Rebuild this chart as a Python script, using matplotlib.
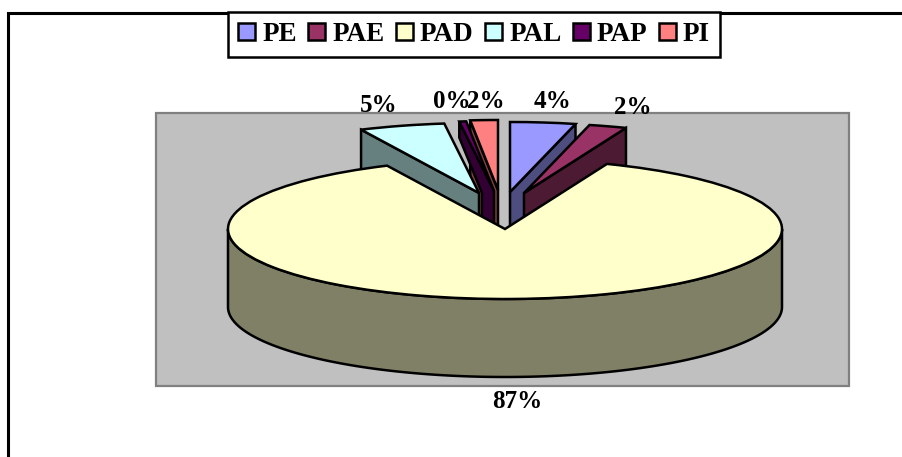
import numpy as np
import matplotlib
matplotlib.use("Agg")
import matplotlib.pyplot as plt
from matplotlib.patches import Patch, Rectangle, Wedge

# Data
categories = ["PE", "PAE", "PAD", "PAL", "PAP", "PI"]
values = [3.8, 2.2, 87.0, 5.0, 0.4, 1.6]
labels = ["4%", "2%", "87%", "5%", "0%", "2%"]

# Style
top_colors = ["#9999FF", "#993366", "#FFFFCC", "#CCFFFF", "#660066", "#FF8080"]
side_colors = ["#4D4D80", "#4D1A33", "#808066", "#668080", "#330033", "#804040"]
W, H = 903, 457
CX, CY, RX, RY, DEPTH = 505, 229, 277, 70, 78
apex_px = [(510, 192), (524, 193), (505, 229), (479, 193), (494, 191), (498, 190)]
label_px = [(553, 101.5), (633, 107.5), (517, 401), (379, 105.5), (452, 101.5), (486, 101.5)]
draw_order = [0, 1, 5, 4, 3, 2]
wall_edge = ["end", "end", None, "start", "start", "start"]  # radial wall facing viewer
# Slice index -> (outer wall depth, inner strip width, inner strip start), in pixels
wall_trim = {4: (16, 12, 2)}
LW = 1.8
FONT = "Liberation Serif"

fig = plt.figure(figsize=(W / 100, H / 100), dpi=100, facecolor="white")

# Pixel-space background axes (frame, plot area)
bg = fig.add_axes([0, 0, 1, 1], zorder=0)
bg.set_xlim(0, W)
bg.set_ylim(H, 0)
bg.axis("off")
bg.plot([8.5, 8.5, W], [H, 12.5, 12.5], color="black", lw=2.2, solid_joinstyle="miter")
bg.add_patch(Rectangle((156.5, 112.5), 692.5, 273.5, facecolor="#C0C0C0",
                       edgecolor="#808080", lw=1.6))

# Pie axes: unit ellipse, x scaled by RX and y by RY
ax = fig.add_axes([0, 0, 1, 1], zorder=1)
ax.set_xlim(-CX / RX, (W - CX) / RX)
ax.set_ylim((CY - H) / RY, CY / RY)
ax.axis("off")
ax.patch.set_alpha(0)
d = DEPTH / RY


def extrude(xs, ys, color):
    """Vertical wall under a top-face edge."""
    px = np.r_[xs, xs[::-1]]
    py = np.r_[ys, np.asarray(ys)[::-1] - d]
    ax.fill(px, py, facecolor=color, edgecolor="black", lw=LW, joinstyle="miter")


fracs = np.array(values) / sum(values)
edges = np.r_[0, np.cumsum(fracs)] * 360  # clockwise from north

for i in draw_order:
    a0, a1 = edges[i], edges[i + 1]
    cx = (apex_px[i][0] - CX) / RX
    cy = (CY - apex_px[i][1]) / RY
    if wall_edge[i]:
        t = np.radians(a0 if wall_edge[i] == "start" else a1)
        ox, oy = cx + np.sin(t), cy + np.cos(t)
        if i in wall_trim:
            outer_d, strip_w, strip_y = wall_trim[i]
            px = [ox, cx, cx, cx - strip_w / RX, cx - strip_w / RX, ox]
            py = [oy, cy, cy - d, cy - d, cy - strip_y / RY, oy - outer_d / RY]
            ax.fill(px, py, facecolor=side_colors[i], edgecolor="black", lw=LW, joinstyle="miter")
        else:
            extrude(np.array([cx, ox]), np.array([cy, oy]), side_colors[i])
    # outer wall: only the part on the front half of the ellipse
    lo, hi = max(a0, 90), min(a1, 270)
    if hi > lo:
        t = np.radians(np.linspace(lo, hi, 200))
        extrude(cx + np.sin(t), cy + np.cos(t), side_colors[i])
    # Top face: matplotlib angles are counter-clockwise from east
    ax.add_patch(Wedge((cx, cy), 1, 90 - a1, 90 - a0, facecolor=top_colors[i],
                       edgecolor="black", lw=LW, joinstyle="miter"))

# Labels on top
for (lx, ly), s in zip(label_px, labels):
    ax.text((lx - CX) / RX, (CY - ly) / RY, s, ha="center", va="center",
            family=FONT, weight="bold", fontsize=18, color="black")

# Legend
handles = [Patch(facecolor=c, edgecolor="black", lw=1.8) for c in top_colors]
leg = fig.legend(handles, categories, ncol=len(categories), loc="center",
                 bbox_to_anchor=(474 / W, 1 - 34.5 / H), frameon=True, fancybox=False,
                 framealpha=1, edgecolor="black",
                 prop={"family": FONT, "weight": "bold", "size": 19.5},
                 handlelength=0.64, handleheight=0.64, handletextpad=0.25,
                 columnspacing=0.42, borderpad=0.36, borderaxespad=0)
leg.get_frame().set_linewidth(1.8)
leg.set_zorder(5)

fig.savefig("out.png", dpi=100)
